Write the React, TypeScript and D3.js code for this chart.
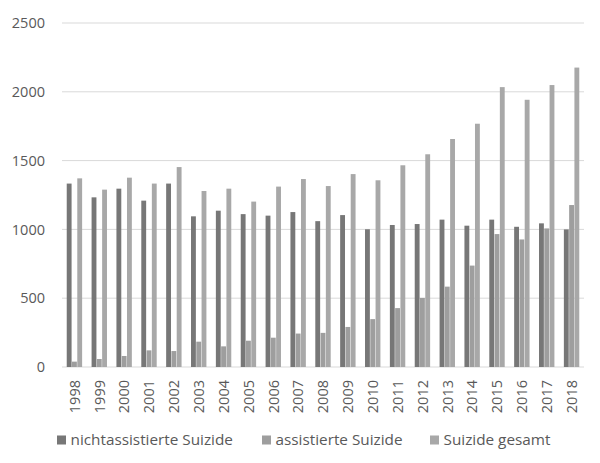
import { useEffect, useRef } from "react";
import * as d3 from "d3";

const years = [
  "1998", "1999", "2000", "2001", "2002", "2003", "2004", "2005", "2006", "2007",
  "2008", "2009", "2010", "2011", "2012", "2013", "2014", "2015", "2016", "2017", "2018",
];
const nichtassistiert = [
  1333, 1233, 1296, 1209, 1333, 1095, 1136, 1111, 1100, 1126,
  1060, 1104, 1001, 1032, 1039, 1071, 1027, 1071, 1019, 1044, 1000,
];
const assistiert = [
  39, 58, 80, 121, 116, 184, 150, 191, 213, 243,
  248, 291, 348, 428, 502, 584, 737, 966, 927, 1007, 1177,
];
const gesamt = [
  1371, 1289, 1376, 1333, 1453, 1279, 1296, 1202, 1311, 1366,
  1315, 1402, 1357, 1466, 1546, 1657, 1768, 2034, 1942, 2049, 2176,
];
const seriesNames = ["nichtassistierte Suizide", "assistierte Suizide", "Suizide gesamt"];
const seriesColors = ["#777777", "#9e9e9e", "#a8a8a8"];
const yTicks = [0, 500, 1000, 1500, 2000, 2500];

const W = 600;
const H = 463;
const FONT = "'Open Sans', sans-serif";
const TEXT = "#595959";

export default function App() {
  const svgRef = useRef<SVGSVGElement>(null);

  useEffect(() => {
    if (!svgRef.current) return;
    const svg = d3.select(svgRef.current);
    svg.selectAll("*").remove();

    const x = d3.scaleBand().domain(years).range([62, 584]).padding(0);
    const y = d3.scaleLinear().domain([0, 2500]).range([367, 23]);
    const groupW = 15.4;
    const inner = d3
      .scaleBand()
      .domain(seriesNames)
      .range([(x.bandwidth() - groupW) / 2, (x.bandwidth() + groupW) / 2])
      .paddingInner(0.08);

    // gridlines
    svg
      .append("g")
      .selectAll("line")
      .data(yTicks)
      .join("line")
      .attr("x1", 62)
      .attr("x2", 584)
      .attr("y1", (d) => y(d))
      .attr("y2", (d) => y(d))
      .attr("stroke", "#d9d9d9")
      .attr("stroke-width", 1);

    // y labels
    svg
      .append("g")
      .selectAll("text")
      .data(yTicks)
      .join("text")
      .attr("x", 45)
      .attr("y", (d) => y(d))
      .attr("dy", "0.36em")
      .attr("text-anchor", "end")
      .attr("fill", TEXT)
      .style("font-family", FONT)
      .style("font-size", "14.5px")
      .text((d) => d);

    const series = [nichtassistiert, assistiert, gesamt];
    series.forEach((vals, si) => {
      svg
        .append("g")
        .selectAll("rect")
        .data(vals)
        .join("rect")
        .attr("x", (_, i) => (x(years[i]) ?? 0) + (inner(seriesNames[si]) ?? 0))
        .attr("y", (d) => y(d))
        .attr("width", inner.bandwidth())
        .attr("height", (d) => y(0) - y(d))
        .attr("fill", seriesColors[si]);
    });

    // x labels
    svg
      .append("g")
      .selectAll("text")
      .data(years)
      .join("text")
      .attr("transform", (d) => `translate(${(x(d) ?? 0) + x.bandwidth() / 2},380) rotate(-90)`)
      .attr("dy", "0.36em")
      .attr("text-anchor", "end")
      .attr("fill", TEXT)
      .style("font-family", FONT)
      .style("font-size", "14.5px")
      .text((d) => d);

    // legend
    const legendX = [57, 262, 430];
    const legend = svg
      .append("g")
      .selectAll("g")
      .data(seriesNames)
      .join("g")
      .attr("transform", (_, i) => `translate(${legendX[i]},0)`);
    legend
      .append("rect")
      .attr("x", 0)
      .attr("y", 435.5)
      .attr("width", 9)
      .attr("height", 9)
      .attr("fill", (_, i) => seriesColors[i]);
    legend
      .append("text")
      .attr("x", 13.5)
      .attr("y", 444.5)
      .attr("fill", TEXT)
      .style("font-family", FONT)
      .style("font-size", "15.3px")
      .text((d) => d);
  }, []);

  return (
    <svg
      ref={svgRef}
      width={W}
      height={H}
      style={{ position: "absolute", left: 0, top: 0, background: "#fff" }}
    />
  );
}
